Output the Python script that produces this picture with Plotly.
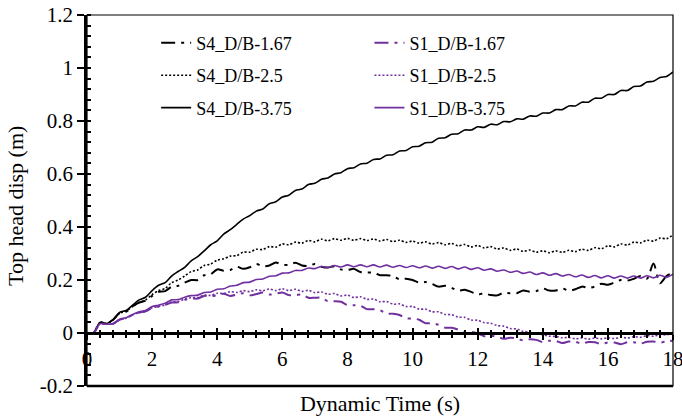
import plotly.graph_objects as go

# time axis (s), 0.2 s step
time_s = [round(i * 0.2, 1) for i in range(91)]

s4_db_1_67 = [0, 0, 0.04, 0.036, 0.05, 0.075, 0.08, 0.1, 0.115, 0.122,
              0.14, 0.155, 0.158, 0.175, 0.178, 0.19, 0.2, 0.2, 0.218, 0.222,
              0.24, 0.235, 0.238, 0.25, 0.242, 0.248, 0.26, 0.252, 0.255, 0.266,
              0.258, 0.257, 0.265, 0.255, 0.253, 0.26, 0.25, 0.247, 0.252, 0.24,
              0.238, 0.242, 0.23, 0.228, 0.228, 0.218, 0.218, 0.215, 0.203, 0.205,
              0.2, 0.19, 0.192, 0.185, 0.175, 0.178, 0.17, 0.16, 0.163, 0.155,
              0.145, 0.15, 0.143, 0.142, 0.152, 0.15, 0.15, 0.16, 0.156, 0.158,
              0.168, 0.16, 0.16, 0.168, 0.16, 0.165, 0.175, 0.17, 0.175, 0.186,
              0.182, 0.19, 0.2, 0.198, 0.205, 0.215, 0.205, 0.262, 0.188, 0.215,
              0.228]

s4_db_2_5 = [0, 0, 0.04, 0.036, 0.05, 0.075, 0.082, 0.1, 0.115, 0.125,
             0.145, 0.16, 0.168, 0.19, 0.2, 0.215, 0.232, 0.238, 0.255, 0.26,
             0.275, 0.28, 0.29, 0.292, 0.305, 0.305, 0.316, 0.315, 0.326, 0.324,
             0.336, 0.333, 0.343, 0.339, 0.349, 0.344, 0.354, 0.348, 0.356, 0.35,
             0.357, 0.35, 0.356, 0.349, 0.355, 0.347, 0.353, 0.345, 0.35, 0.342,
             0.347, 0.339, 0.344, 0.336, 0.341, 0.333, 0.338, 0.329, 0.334, 0.325,
             0.33, 0.321, 0.326, 0.317, 0.321, 0.312, 0.317, 0.308, 0.313, 0.305,
             0.31, 0.303, 0.31, 0.304, 0.312, 0.307, 0.316, 0.312, 0.322, 0.318,
             0.329, 0.325, 0.336, 0.332, 0.343, 0.34, 0.35, 0.347, 0.358, 0.356,
             0.37]

s4_db_3_75 = [0, 0, 0.04, 0.036, 0.05, 0.078, 0.085, 0.105, 0.125, 0.135,
              0.16, 0.18, 0.19, 0.215, 0.232, 0.248, 0.272, 0.288, 0.31, 0.333,
              0.348, 0.373, 0.39, 0.41, 0.43, 0.443, 0.46, 0.468, 0.488, 0.495,
              0.513, 0.52, 0.538, 0.543, 0.56, 0.565, 0.58, 0.585, 0.6, 0.605,
              0.62, 0.624, 0.638, 0.641, 0.655, 0.657, 0.671, 0.673, 0.687, 0.689,
              0.703, 0.705, 0.718, 0.72, 0.735, 0.737, 0.75, 0.752, 0.766, 0.766,
              0.778, 0.776, 0.788, 0.786, 0.798, 0.797, 0.808, 0.807, 0.819, 0.818,
              0.83, 0.83, 0.843, 0.843, 0.857, 0.857, 0.871, 0.871, 0.886, 0.886,
              0.9, 0.9, 0.915, 0.915, 0.93, 0.932, 0.947, 0.95, 0.964, 0.968,
              0.985]

s1_db_1_67 = [0, 0, 0.035, 0.033, 0.035, 0.05, 0.056, 0.068, 0.077, 0.082,
              0.095, 0.1, 0.106, 0.115, 0.116, 0.125, 0.13, 0.13, 0.14, 0.138,
              0.143, 0.148, 0.14, 0.145, 0.15, 0.142, 0.147, 0.153, 0.145, 0.148,
              0.153, 0.143, 0.143, 0.145, 0.133, 0.133, 0.133, 0.12, 0.12, 0.118,
              0.105, 0.105, 0.103, 0.09, 0.09, 0.086, 0.073, 0.073, 0.068, 0.055,
              0.055, 0.05, 0.037, 0.037, 0.031, 0.02, 0.02, 0.013, 0.003, 0.004,
              -0.002, -0.012, -0.01, -0.014, -0.022, -0.018, -0.02, -0.028, -0.024, -0.026,
              -0.034, -0.029, -0.03, -0.038, -0.032, -0.033, -0.04, -0.034, -0.035, -0.042,
              -0.036, -0.036, -0.042, -0.035, -0.035, -0.04, -0.033, -0.032, -0.037, -0.03,
              -0.03]

s1_db_2_5 = [0, 0, 0.035, 0.033, 0.035, 0.05, 0.056, 0.068, 0.077, 0.082,
             0.095, 0.1, 0.106, 0.117, 0.118, 0.128, 0.133, 0.134, 0.143, 0.142,
             0.15, 0.149, 0.156, 0.153, 0.16, 0.156, 0.163, 0.159, 0.166, 0.16,
             0.167, 0.16, 0.165, 0.157, 0.161, 0.152, 0.155, 0.146, 0.149, 0.14,
             0.143, 0.134, 0.137, 0.127, 0.128, 0.118, 0.119, 0.109, 0.11, 0.1,
             0.1, 0.09, 0.09, 0.08, 0.08, 0.07, 0.069, 0.06, 0.059, 0.049,
             0.048, 0.039, 0.037, 0.028, 0.026, 0.017, 0.015, 0.006, 0.004, -0.004,
             -0.006, -0.012, -0.013, -0.018, -0.017, -0.022, -0.019, -0.023, -0.019, -0.022,
             -0.018, -0.021, -0.016, -0.019, -0.014, -0.016, -0.01, -0.012, -0.006, -0.007,
             0.0]

s1_db_3_75 = [0, 0, 0.035, 0.033, 0.035, 0.052, 0.058, 0.07, 0.08, 0.085,
              0.1, 0.105, 0.112, 0.125, 0.126, 0.135, 0.141, 0.143, 0.153, 0.155,
              0.165, 0.167, 0.177, 0.18, 0.19, 0.192, 0.202, 0.204, 0.214, 0.216,
              0.226, 0.227, 0.236, 0.236, 0.245, 0.243, 0.251, 0.247, 0.255, 0.249,
              0.257, 0.25, 0.257, 0.25, 0.257, 0.249, 0.256, 0.248, 0.255, 0.247,
              0.254, 0.246, 0.253, 0.245, 0.252, 0.244, 0.251, 0.242, 0.249, 0.24,
              0.246, 0.237, 0.242, 0.233, 0.238, 0.229, 0.234, 0.225, 0.23, 0.221,
              0.227, 0.218, 0.224, 0.215, 0.221, 0.212, 0.219, 0.21, 0.217, 0.208,
              0.216, 0.207, 0.215, 0.207, 0.215, 0.207, 0.216, 0.208, 0.218, 0.21,
              0.222]

x_tick_vals = [0, 2, 4, 6, 8, 10, 12, 14, 16, 18]
x_tick_text = ["0", "2", "4", "6", "8", "10", "12", "14", "16", "18"]
y_tick_vals = [-0.2, 0, 0.2, 0.4, 0.6, 0.8, 1.0, 1.2]
y_tick_text = ["-0.2", "0", "0.2", "0.4", "0.6", "0.8", "1", "1.2"]
x_title = "Dynamic Time (s)"
y_title = "Top head disp (m)"

BLACK = "#000000"
PURPLE = "#7030A0"
FONT = "Liberation Serif"
DASHDOT = "14px,6px,3px,6px"
DOT = "2px,2px"

# name, values, colour, dash, width, legend, x-axis
series = [
    ("S4_D/B-1.67", s4_db_1_67, BLACK, DASHDOT, 2.0, "legend", "x"),
    ("S4_D/B-2.5", s4_db_2_5, BLACK, DOT, 1.6, "legend", "x"),
    ("S4_D/B-3.75", s4_db_3_75, BLACK, "solid", 1.6, "legend", "x"),
    ("S1_D/B-1.67", s1_db_1_67, PURPLE, DASHDOT, 2.0, "legend2", "x2"),
    ("S1_D/B-2.5", s1_db_2_5, PURPLE, DOT, 1.6, "legend2", "x2"),
    ("S1_D/B-3.75", s1_db_3_75, PURPLE, "solid", 1.6, "legend2", "x2"),
]

fig = go.Figure()
for name, vals, color, dash, width, leg, xa in series:
    fig.add_trace(go.Scatter(
        x=time_s, y=vals, name=name, mode="lines", xaxis=xa, yaxis="y",
        line=dict(color=color, dash=dash, width=width, shape="spline", smoothing=0.8),
        legend=leg, legendgroup=name,
    ))

W, H = 682, 419
ml, mr, mt, mb = 87, 9, 15, 33
plot_w, plot_h = W - ml - mr, H - mt - mb
zero_pos = (0 - (-0.2)) / (1.2 - (-0.2))

legend_common = dict(
    font=dict(family=FONT, size=18, color="black"),
    bgcolor="rgba(0,0,0,0)", borderwidth=0,
    traceorder="grouped", tracegroupgap=6,
    xanchor="left", yanchor="top", itemwidth=30,
)

fig.update_layout(
    width=W, height=H,
    margin=dict(l=ml, r=mr, t=mt, b=mb, autoexpand=False),
    paper_bgcolor="white", plot_bgcolor="white",
    font=dict(family=FONT, color="black"),
    showlegend=True,
    legend=dict(x=0.118, y=0.974, **legend_common),
    legend2=dict(x=0.482, y=0.974, **legend_common),
    xaxis=dict(
        anchor="free", position=zero_pos, side="bottom",
        range=[0, 18], showgrid=False, zeroline=False,
        showline=True, linecolor="black", linewidth=2.5,
        tickvals=x_tick_vals, ticktext=x_tick_text,
        ticks="outside", ticklen=5, tickwidth=2, tickcolor="black",
        minor=dict(ticks="outside", ticklen=3, tickwidth=1.5, tickcolor="black", dtick=0.4, tick0=0),
        tickfont=dict(family=FONT, size=21, color="black"),
        ticklabelstandoff=1, ticklabeloverflow="allow",
        title=dict(text=x_title, font=dict(family=FONT, size=22), standoff=25),
    ),
    xaxis2=dict(
        overlaying="x", anchor="free", position=zero_pos, side="bottom",
        range=[0, 18], showgrid=False, zeroline=False, showline=False,
        tickvals=x_tick_vals, showticklabels=False,
        ticks="inside", ticklen=5, tickwidth=2, tickcolor="black",
        minor=dict(ticks="inside", ticklen=3, tickwidth=1.5, tickcolor="black", dtick=0.4, tick0=0),
    ),
    yaxis=dict(
        range=[-0.2, 1.2], showgrid=False, zeroline=False,
        showline=True, linecolor="black", linewidth=2.5,
        tickvals=y_tick_vals, ticktext=y_tick_text,
        ticks="outside", ticklen=7, tickwidth=2, tickcolor="black",
        minor=dict(ticks="inside", ticklen=4, tickwidth=1.5, tickcolor="black", dtick=0.04, tick0=0),
        tickfont=dict(family=FONT, size=21, color="black"),
    ),
    annotations=[
        dict(text=y_title, xref="paper", yref="paper",
             x=(15 - ml) / plot_w, y=1 - (206 - mt) / plot_h,
             xanchor="center", yanchor="middle", textangle=-90, showarrow=False,
             font=dict(family=FONT, size=22, color="black")),
    ],
    shapes=[
        dict(type="rect", xref="paper", yref="paper", x0=0, x1=1, y0=0, y1=1,
             line=dict(color="black", width=1.2), layer="above"),
        dict(type="line", xref="paper", yref="paper", x0=0, x1=1, y0=0, y1=0,
             line=dict(color="black", width=2.5), layer="above"),
    ],
)

fig.write_html(
    "out.html",
    config={"displayModeBar": False},
    post_script="document.body.style.margin='0';document.body.style.overflow='hidden';",
)
